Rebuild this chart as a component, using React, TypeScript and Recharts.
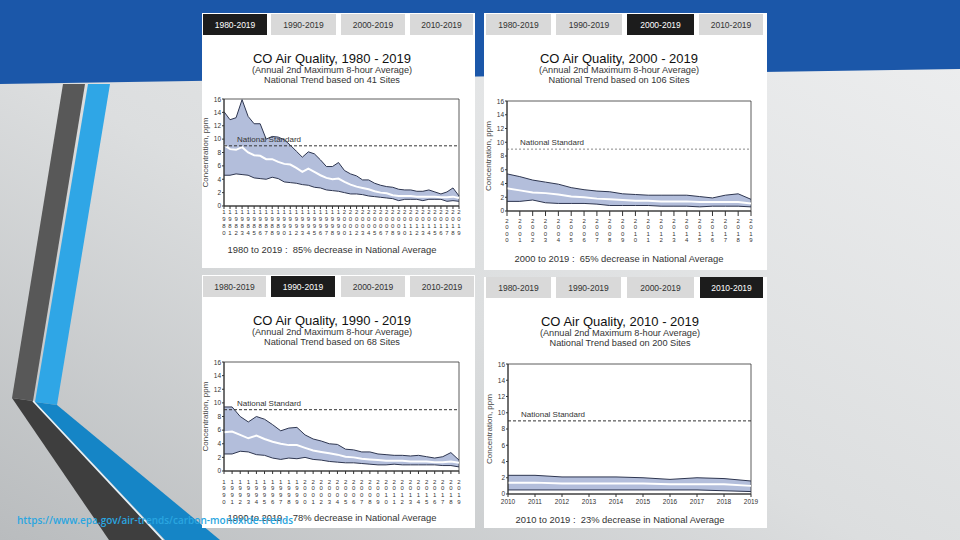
import React from 'react';
import { ComposedChart, Area, Line, XAxis, YAxis, ReferenceLine, ReferenceArea } from 'recharts';

// values (ppm): 90th pct, mean, 10th pct
const years1980 = [1980, 1981, 1982, 1983, 1984, 1985, 1986, 1987, 1988, 1989, 1990, 1991, 1992, 1993, 1994, 1995, 1996, 1997, 1998, 1999, 2000, 2001, 2002, 2003, 2004, 2005, 2006, 2007, 2008, 2009, 2010, 2011, 2012, 2013, 2014, 2015, 2016, 2017, 2018, 2019];
const hi1980 = [14.1, 12.9, 13.2, 15.9, 13.4, 12.3, 12.3, 10.0, 10.4, 10.3, 9.9, 9.1, 8.2, 7.3, 8.1, 7.8, 6.9, 5.9, 5.9, 6.5, 5.3, 4.8, 4.5, 3.9, 3.9, 3.4, 3.1, 2.9, 2.8, 2.5, 2.4, 2.4, 2.2, 2.2, 2.4, 2.1, 1.8, 2.1, 2.7, 1.5];
const avg1980 = [9.1, 8.5, 8.4, 8.8, 8.0, 7.6, 7.5, 7.0, 7.0, 6.6, 6.3, 6.2, 5.7, 5.1, 5.6, 5.1, 4.6, 4.2, 4.0, 4.1, 3.6, 3.2, 2.9, 2.7, 2.5, 2.2, 2.0, 1.9, 1.6, 1.5, 1.5, 1.5, 1.4, 1.4, 1.4, 1.4, 1.3, 1.3, 1.4, 1.2];
const lo1980 = [4.6, 4.6, 4.8, 4.7, 4.6, 4.2, 4.1, 4.0, 4.3, 4.1, 3.6, 3.5, 3.4, 3.2, 3.1, 2.8, 2.7, 2.4, 2.3, 2.2, 2.0, 1.8, 1.8, 1.7, 1.5, 1.4, 1.3, 1.2, 1.1, 0.8, 1.0, 1.0, 1.0, 0.8, 1.0, 1.0, 1.0, 0.7, 0.8, 0.7];

const years1990 = [1990, 1991, 1992, 1993, 1994, 1995, 1996, 1997, 1998, 1999, 2000, 2001, 2002, 2003, 2004, 2005, 2006, 2007, 2008, 2009, 2010, 2011, 2012, 2013, 2014, 2015, 2016, 2017, 2018, 2019];
const hi1990 = [9.4, 9.4, 8.0, 7.2, 8.0, 7.6, 6.8, 5.9, 6.3, 6.4, 5.3, 4.7, 4.4, 4.0, 3.9, 3.2, 3.1, 2.8, 2.8, 2.5, 2.4, 2.3, 2.3, 2.2, 2.3, 2.1, 1.9, 2.1, 2.7, 1.6];
const avg1990 = [5.7, 5.8, 5.3, 4.8, 5.2, 4.7, 4.3, 4.0, 3.8, 3.8, 3.4, 3.0, 2.8, 2.6, 2.4, 2.1, 2.0, 1.8, 1.7, 1.6, 1.5, 1.5, 1.5, 1.4, 1.4, 1.4, 1.3, 1.3, 1.4, 1.2];
const lo1990 = [2.5, 2.5, 2.9, 2.8, 2.4, 2.3, 1.9, 1.7, 1.9, 1.8, 2.0, 1.7, 1.6, 1.4, 1.3, 1.2, 1.2, 1.1, 1.0, 0.9, 0.9, 1.0, 0.9, 0.9, 0.9, 0.9, 0.9, 0.8, 0.8, 0.6];

const years2000 = [2000, 2001, 2002, 2003, 2004, 2005, 2006, 2007, 2008, 2009, 2010, 2011, 2012, 2013, 2014, 2015, 2016, 2017, 2018, 2019];
const hi2000 = [5.4, 5.0, 4.5, 4.2, 3.9, 3.4, 3.1, 2.9, 2.8, 2.5, 2.4, 2.3, 2.3, 2.3, 2.3, 2.1, 1.9, 2.3, 2.5, 1.7];
const avg2000 = [3.3, 3.0, 2.7, 2.6, 2.4, 2.1, 2.0, 1.8, 1.7, 1.6, 1.5, 1.5, 1.4, 1.4, 1.4, 1.3, 1.3, 1.3, 1.3, 1.1];
const lo2000 = [1.4, 1.4, 1.6, 1.2, 1.1, 1.1, 1.1, 1.0, 0.8, 0.8, 0.8, 0.8, 0.7, 0.7, 0.7, 0.6, 0.7, 0.7, 0.7, 0.6];

const years2010 = [2010, 2011, 2012, 2013, 2014, 2015, 2016, 2017, 2018, 2019];
const hi2010 = [2.3, 2.3, 2.1, 2.1, 2.1, 2.0, 1.8, 2.0, 1.9, 1.6];
const avg2010 = [1.4, 1.4, 1.3, 1.3, 1.3, 1.3, 1.2, 1.2, 1.2, 1.0];
const lo2010 = [0.5, 0.5, 0.5, 0.5, 0.5, 0.5, 0.5, 0.5, 0.4, 0.3];

const yTicks = [0, 2, 4, 6, 8, 10, 12, 14, 16];
const tabLabels = ['1980-2019', '1990-2019', '2000-2019', '2010-2019'];
const NATIONAL_STANDARD = 9;

const FONT = '"Liberation Sans", Arial, Helvetica, sans-serif';

function buildRows(years: number[], hi: number[], avg: number[], lo: number[]) {
  return years.map((y, i) => ({ year: String(y), band: [lo[i], hi[i]], hi: hi[i], avg: avg[i], lo: lo[i] }));
}

const panels = [
  {
    title: 'CO Air Quality, 1980 - 2019', sites: 'National Trend based on 41 Sites',
    footer: '1980 to 2019 :  85% decrease in National Average', active: 0,
    box: { x: 202, y: 13, w: 273, h: 255 }, tabY: 14,
    tabs: [[203, 267], [271, 336], [341, 405], [410, 473]],
    cx: 332, titleY: 63, footerY: 253,
    rows: buildRows(years1980, hi1980, avg1980, lo1980),
    plot: { x: 224, y: 99, w: 235, h: 107 },
    tick: { vertical: true, size: 3, top: 8, gap: 6.9 },
    ylabX: 205, stdColor: '#333', stdDash: '3 2', right: 3,
  },
  {
    title: 'CO Air Quality, 2000 - 2019', sites: 'National Trend based on 106 Sites',
    footer: '2000 to 2019 :  65% decrease in National Average', active: 2,
    box: { x: 484, y: 13, w: 283, h: 257 }, tabY: 14,
    tabs: [[486, 551], [556, 622], [627, 694], [699, 763]],
    cx: 619, titleY: 63, footerY: 262,
    rows: buildRows(years2000, hi2000, avg2000, lo2000),
    plot: { x: 507, y: 101, w: 244, h: 110 },
    tick: { vertical: true, size: 5, top: 12.3, gap: 6.1 },
    ylabX: 488, stdColor: '#888', stdDash: '2 2', right: 4,
  },
  {
    title: 'CO Air Quality, 1990 - 2019', sites: 'National Trend based on 68 Sites',
    footer: '1990 to 2019 :  78% decrease in National Average', active: 1,
    box: { x: 202, y: 275, w: 273, h: 253 }, tabY: 276,
    tabs: [[203, 266], [271, 335], [341, 405], [410, 474]],
    cx: 332, titleY: 325, footerY: 521,
    rows: buildRows(years1990, hi1990, avg1990, lo1990),
    plot: { x: 224, y: 362, w: 235, h: 109 },
    tick: { vertical: true, size: 3, top: 12.5, gap: 6.8 },
    ylabX: 205, stdColor: '#333', stdDash: '3 2', right: 3,
  },
  {
    title: 'CO Air Quality, 2010 - 2019', sites: 'National Trend based on 200 Sites',
    footer: '2010 to 2019 :  23% decrease in National Average', active: 3,
    box: { x: 484, y: 277, w: 283, h: 251 }, tabY: 277,
    tabs: [[486, 551], [556, 621], [627, 694], [700, 763]],
    cx: 620, titleY: 326, footerY: 523,
    rows: buildRows(years2010, hi2010, avg2010, lo2010),
    plot: { x: 508, y: 364, w: 243, h: 130 },
    tick: { vertical: false, size: 3, top: 9, gap: 0 },
    ylabX: 489, stdColor: '#333', stdDash: '3 2', right: 14,
  },
];

const StackTick = (props: any) => {
  const { x, y, payload, top, gap, size } = props;
  const chars = String(payload.value).split('');
  return (
    <text x={x} y={y} textAnchor="middle" fontSize={6} fill="#333" fontFamily={FONT}>
      {chars.map((c, i) => (
        <tspan key={i} x={x} dy={i === 0 ? top - size : gap}>{c}</tspan>
      ))}
    </text>
  );
};

const Y_W = 22;
const M_TOP = 3;

function TrendChart({ p }: { p: (typeof panels)[number] }) {
  const xH = p.tick.vertical ? 36 : 14;
  const width = p.plot.w + Y_W + p.right;
  const height = p.plot.h + M_TOP + xH;
  const first = p.rows[0].year;
  const last = p.rows[p.rows.length - 1].year;
  return (
    <div style={{ position: 'absolute', left: p.plot.x - Y_W, top: p.plot.y - M_TOP, width, height }}>
      <ComposedChart width={width} height={height} data={p.rows} margin={{ top: M_TOP, right: p.right, left: 0, bottom: 0 }}>
        <XAxis
          dataKey="year"
          scale="point"
          interval={0}
          height={xH}
          tickSize={p.tick.size}
          tickMargin={p.tick.vertical ? 0 : 2}
          stroke="#333"
          tick={p.tick.vertical
            ? (tp: any) => <StackTick {...tp} top={p.tick.top} gap={p.tick.gap} size={p.tick.size} />
            : { fontSize: 6.5, fill: '#333', fontFamily: FONT }}
        />
        <YAxis
          domain={[0, 16]}
          ticks={yTicks}
          width={Y_W}
          tickSize={2}
          tickMargin={1}
          stroke="#333"
          tick={{ fontSize: 6.5, fill: '#333', fontFamily: FONT }}
        />
        <Area dataKey="band" fill="#b3bedb" fillOpacity={1} stroke="none" isAnimationActive={false} />
        <Line dataKey="hi" stroke="#2e3650" strokeWidth={1} dot={false} activeDot={false} isAnimationActive={false} />
        <Line dataKey="lo" stroke="#2e3650" strokeWidth={1} dot={false} activeDot={false} isAnimationActive={false} />
        <Line dataKey="avg" stroke="#ffffff" strokeWidth={2} dot={false} activeDot={false} isAnimationActive={false} />
        <ReferenceLine
          y={NATIONAL_STANDARD}
          stroke={p.stdColor}
          strokeDasharray={p.stdDash}
          label={{ value: 'National Standard', position: 'insideBottomLeft', offset: 4, dx: 9, fontSize: 8, fill: '#333', fontFamily: FONT }}
        />
        <ReferenceArea x1={first} x2={last} y1={0} y2={16} fill="none" stroke="#333" strokeWidth={0.8} ifOverflow="visible" />
      </ComposedChart>
    </div>
  );
}

export default function App() {
  return (
    <div style={{ position: 'absolute', left: 0, top: 0, width: 960, height: 540, overflow: 'hidden', fontFamily: FONT }}>
      <svg width={960} height={540} style={{ position: 'absolute', left: 0, top: 0 }}>
        <defs>
          <linearGradient id="bg" x1="1" y1="0" x2="0" y2="1">
            <stop offset="0" stopColor="#eeeff0" />
            <stop offset="0.55" stopColor="#dcdedf" />
            <stop offset="1" stopColor="#b9bcbe" />
          </linearGradient>
        </defs>
        <rect x={0} y={0} width={960} height={540} fill="url(#bg)" />
        <polygon points="0,0 960,0 960,69 0,84" fill="#1b57a9" />
        {/* left stripes */}
        <polygon points="63,84 85,84 33,401 12,398" fill="#585858" />
        <polygon points="88,84 110,84 57,405 35,402" fill="#2fa6e6" />
        <polygon points="12,398 33,401 163,540 109,540" fill="#3e3e3e" />
        <polygon points="35,402 57,405 220,540 165,540" fill="#1585c6" />
        <line x1={33} y1={401} x2={163} y2={540} stroke="#e8f4fb" strokeWidth={1.5} />

        {panels.map((p, pi) => (
          <g key={pi}>
            <rect x={p.box.x} y={p.box.y} width={p.box.w} height={p.box.h} fill="#ffffff" />
            {p.tabs.map(([x0, x1], ti) => (
              <g key={ti}>
                <rect x={x0} y={p.tabY} width={x1 - x0} height={21} fill={ti === p.active ? '#1c1c1c' : '#d9d9d9'} />
                <text x={(x0 + x1) / 2} y={p.tabY + 13.5} textAnchor="middle" fontSize={8.5} fill={ti === p.active ? '#ffffff' : '#333'}>
                  {tabLabels[ti]}
                </text>
              </g>
            ))}
            <text x={p.cx} y={p.titleY} textAnchor="middle" fontSize={13} fill="#111">{p.title}</text>
            <text x={p.cx} y={p.titleY + 10} textAnchor="middle" fontSize={9.2} fill="#333">(Annual 2nd Maximum 8-hour Average)</text>
            <text x={p.cx} y={p.titleY + 20} textAnchor="middle" fontSize={9.2} fill="#333">{p.sites}</text>
            <text x={p.cx} y={p.footerY} textAnchor="middle" fontSize={9.4} fill="#333" xmlSpace="preserve" style={{ whiteSpace: 'pre' }}>{p.footer}</text>
            <text
              x={p.ylabX}
              y={p.plot.y + p.plot.h / 2}
              textAnchor="middle"
              fontSize={8}
              fill="#444"
              transform={`rotate(-90 ${p.ylabX} ${p.plot.y + p.plot.h / 2})`}
              dy={3}
            >
              Concentration, ppm
            </text>
          </g>
        ))}
        <text x={17} y={524} fontSize={10} fontWeight={600} fill="#2aa6e0" fontFamily='"Open Sans", "Noto Sans", sans-serif'>
          https://www.epa.gov/air-trends/carbon-monoxide-trends
        </text>
      </svg>
      {panels.map((p, pi) => (
        <TrendChart key={pi} p={p} />
      ))}
    </div>
  );
}
